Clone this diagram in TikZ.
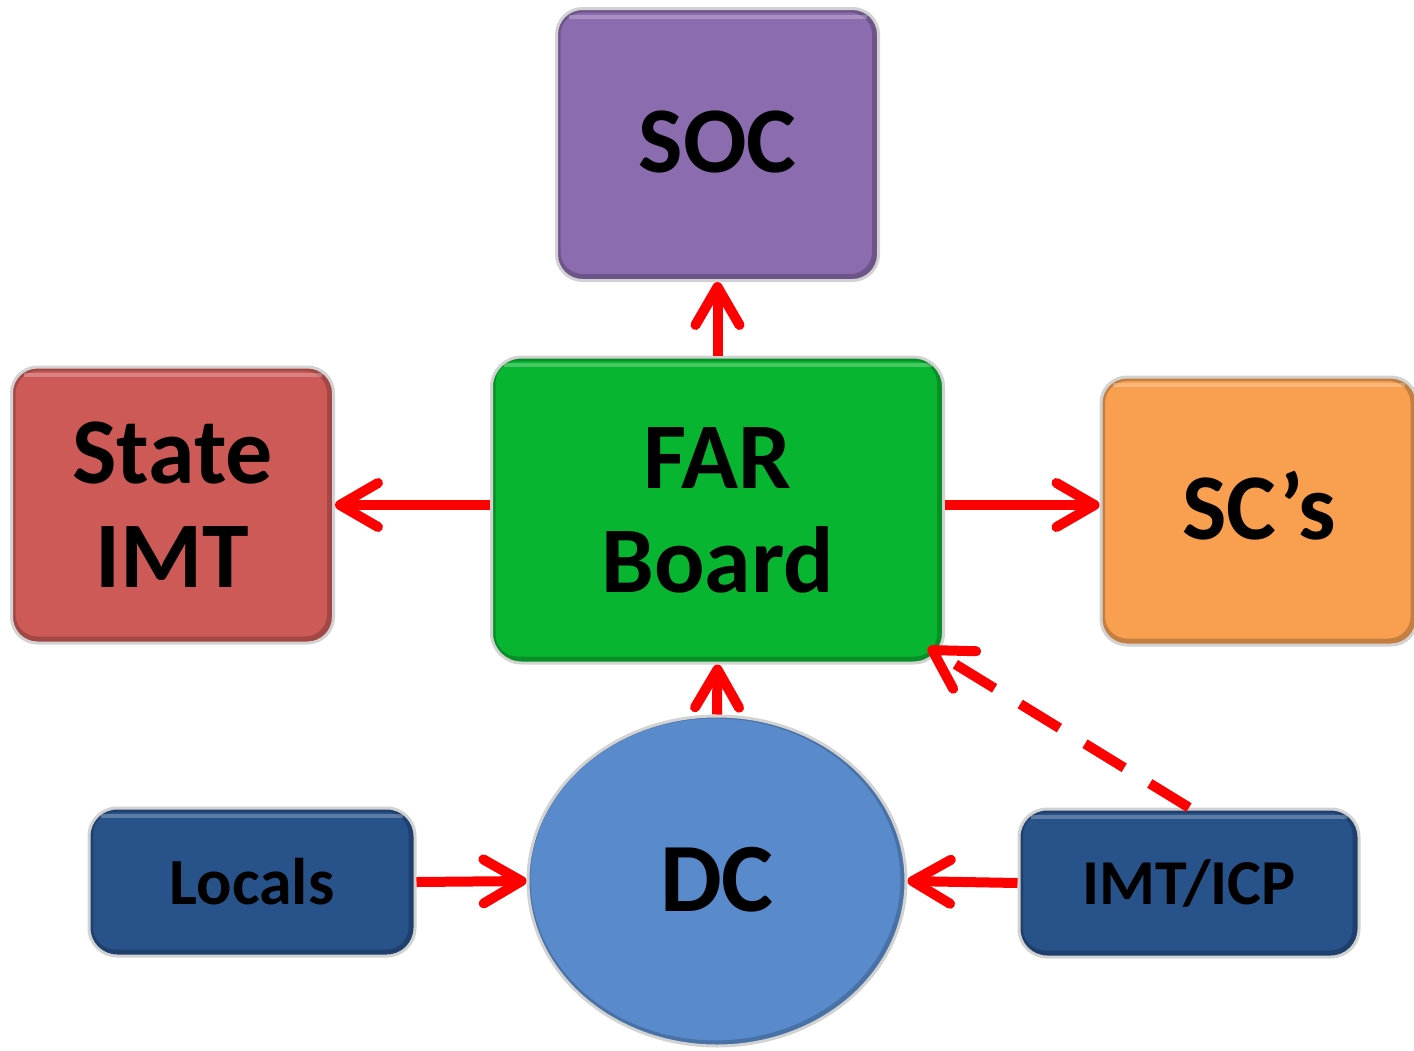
\documentclass[tikz,border=0pt]{standalone}
\usepackage{fontspec}
\setmainfont{Carlito}
\usetikzlibrary{arrows.meta,shapes.geometric,calc}
\definecolor{socC}{HTML}{8B6CAF}
\definecolor{farC}{HTML}{08B531}
\definecolor{stiC}{HTML}{CD5A57}
\definecolor{scsC}{HTML}{F9A050}
\definecolor{dcC}{HTML}{598ACB}
\definecolor{dkC}{HTML}{28528A}
\definecolor{arrC}{HTML}{FF0000}
\tikzset{
  box/.style={rectangle, rounded corners=13pt, draw=gray!35, line width=1.5pt, fill=#1,
    inner sep=0pt, align=center, font=\bfseries\fontsize{47}{52}\selectfont,
    path picture={
      \draw[#1!70!black, line width=4pt, opacity=0.7]
        ([yshift=1.2pt]path picture bounding box.south west) [rounded corners=13pt]
        rectangle ([xshift=-1.2pt]path picture bounding box.north east);
      \draw[white, line width=2pt, opacity=0.25]
        ([xshift=6pt,yshift=-4pt]path picture bounding box.north west) -- ([xshift=-6pt,yshift=-4pt]path picture bounding box.north east);
    }},
  smallbox/.style={box=#1, rounded corners=14pt, font=\bfseries\fontsize{33}{38}\selectfont},
  conn/.style={draw=arrC, line width=5pt,
    -{Straight Barb[length=19pt,width=22pt,round]}},
}
\begin{document}
\begin{tikzpicture}[x=0.5pt,y=-0.5pt]
\useasboundingbox (0,0) rectangle (1414,1050);
\node[box=socC, minimum width=161pt, minimum height=136pt] (soc) at (717.5,144.5) {\raisebox{2.5pt}{SOC}};
\node[box=farC, rounded corners=15pt, minimum width=226pt, minimum height=153pt] (far) at (717.5,510) {FAR\\Board};
\node[box=stiC, minimum width=161pt, minimum height=138pt] (sti) at (172.5,505) {State\\IMT};
\node[box=scsC, minimum width=158pt, minimum height=134pt] (scs) at (1259,511) {\raisebox{5.5pt}{SC’s}};
\node[ellipse, draw=gray!35, line width=1.5pt, fill=dcC, inner sep=0pt,
  minimum width=189pt, minimum height=165pt, font=\bfseries\fontsize{49}{54}\selectfont,
  path picture={\draw[dcC!70!black, line width=4pt, opacity=0.6]
    ([xshift=-0.8pt,yshift=0.8pt]path picture bounding box.center) ellipse [x radius=94.5pt, y radius=82.5pt];}] (dc) at (717,881) {\raisebox{1.5pt}{DC}};
\node[smallbox=dkC, minimum width=163pt, minimum height=74pt] (loc) at (252,882) {Locals};
\node[smallbox=dkC, minimum width=170pt, minimum height=74pt, font=\bfseries\fontsize{32}{38}\selectfont] (imt) at (1189,883) {IMT/ICP};
\draw[conn] (far.north) -- (soc.south);
\draw[conn] (far.west |- sti.east) -- (sti.east);
\draw[conn] (far.east |- sti.east) -- (scs.west |- sti.east);
\draw[conn] (dc.north) -- (far.south);
\draw[conn] (loc.east) -- (dc.west);
\draw[conn] (imt.west) -- (dc.east);
\draw[conn, dash pattern=on 23pt off 15pt] (imt.north) -- ($(far.south east)+(-17,-17)$);
\end{tikzpicture}
\end{document}
